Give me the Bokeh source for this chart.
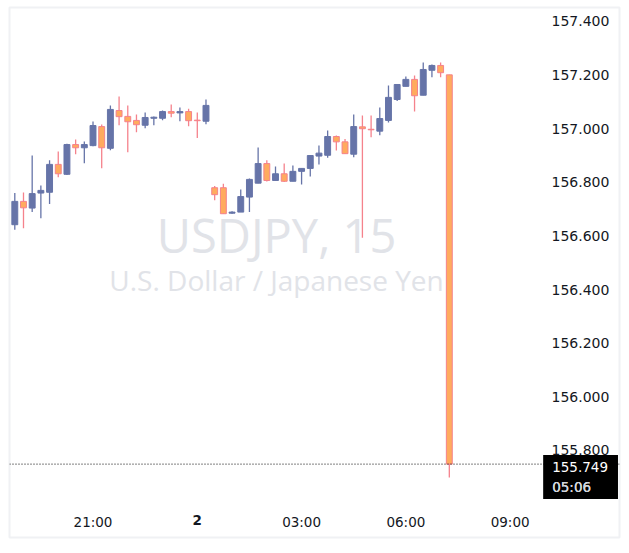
from bokeh.plotting import figure
from bokeh.models import Range1d, FixedTicker, PrintfTickFormatter, Span, Label
from bokeh.embed import file_html
from bokeh.resources import INLINE
import pandas as pd


# 15 minute candles, day 1 18:45 -> day 2 07:15
times = pd.date_range("2024-01-01 18:45", periods=51, freq="15min")

opens = [156.642, 156.729, 156.704, 156.760, 156.763, 156.867, 156.830, 156.941, 156.929, 156.937,
         157.008, 156.927, 157.068, 157.046, 157.031, 157.013, 157.039, 157.039, 157.064, 157.059,
         157.064, 157.032, 157.028, 156.780, 156.780, 156.685, 156.689, 156.745, 156.797, 156.870,
         156.807, 156.832, 156.804, 156.841, 156.852, 156.898, 156.901, 156.971, 156.951, 156.905,
         157.007, 156.998, 156.991, 157.031, 157.109, 157.158, 157.184, 157.125, 157.218, 157.236,
         157.201]
highs = [156.760, 156.762, 156.900, 156.788, 156.882, 156.915, 156.944, 156.960, 156.952, 157.027,
         157.016, 157.087, 157.120, 157.087, 157.053, 157.061, 157.046, 157.068, 157.090, 157.079,
         157.075, 157.061, 157.109, 156.786, 156.795, 156.692, 156.773, 156.814, 156.930, 156.882,
         156.859, 156.870, 156.863, 156.852, 156.900, 156.937, 156.993, 156.975, 156.962, 157.053,
         157.049, 157.049, 157.079, 157.161, 157.165, 157.195, 157.199, 157.247, 157.240, 157.247,
         157.201]
lows = [156.623, 156.629, 156.689, 156.666, 156.719, 156.819, 156.827, 156.905, 156.871, 156.935,
        156.853, 156.920, 157.013, 156.912, 156.987, 157.002, 157.013, 157.032, 157.043, 157.028,
        157.009, 156.965, 157.017, 156.733, 156.683, 156.683, 156.689, 156.689, 156.797, 156.803,
        156.807, 156.801, 156.804, 156.792, 156.822, 156.867, 156.892, 156.919, 156.907, 156.894,
        156.593, 156.968, 156.976, 157.023, 157.103, 157.158, 157.064, 157.125, 157.192, 157.192,
        155.699]
closes = [156.729, 156.705, 156.758, 156.770, 156.867, 156.832, 156.941, 156.929, 156.941, 157.012,
          156.929, 157.072, 157.045, 157.026, 157.015, 157.042, 157.043, 157.064, 157.058, 157.064,
          157.030, 157.030, 157.087, 156.754, 156.683, 156.689, 156.747, 156.811, 156.870, 156.807,
          156.832, 156.804, 156.841, 156.852, 156.900, 156.909, 156.971, 156.951, 156.907, 157.008,
          157.000, 156.996, 157.038, 157.117, 157.165, 157.184, 157.123, 157.221, 157.236, 157.209,
          155.749]

price_ticks = [155.8, 156.0, 156.2, 156.4, 156.6, 156.8, 157.0, 157.2, 157.4]
time_ticks = [21, 24, 27, 30, 33]
time_labels = ["21:00", "", "03:00", "06:00", "09:00"]
day_label = "2"
countdown = "05:06"

BLUE = "#6674a8"
ORANGE = "#ffab5e"
PINK = "#f5828c"
TEXT = "#131722"
WATERMARK = "#e1e3e8"

hours = [(t - times[0].normalize()) / pd.Timedelta(hours=1) for t in times]
up = [c >= o for o, c in zip(opens, closes)]
wick_colors = [BLUE if u else PINK for u in up]
fill_colors = [BLUE if u else ORANGE for u in up]
line_colors = [BLUE if u else PINK for u in up]
tops = [max(o, c) for o, c in zip(opens, closes)]
bottoms = [min(o, c) for o, c in zip(opens, closes)]


#frame covers the whole bordered chart, axes labels pulled inside it
p = figure(width=621, height=545, output_backend="svg", toolbar_location=None,
           x_range=Range1d(18.5975, 36.146), y_range=Range1d(155.4753, 157.4522),
           y_axis_location="right", min_border_left=9, min_border_right=2,
           min_border_top=7, min_border_bottom=8,
           background_fill_color="white", border_fill_color="white",
           outline_line_color="#f0f1f4", outline_line_width=2)
p.grid.visible = False

#watermark
p.add_layout(Label(x=26.28, y=156.602, text="USDJPY, 15", text_align="center", text_baseline="middle",
                   text_font="Open Sans", text_font_size="47px", text_color=WATERMARK, level="underlay"))
p.add_layout(Label(x=26.28, y=156.436, text="U.S. Dollar / Japanese Yen", text_align="center",
                   text_baseline="middle", text_font="Open Sans", text_font_size="28px",
                   text_color=WATERMARK, level="underlay"))

#candles
p.segment(hours, highs, hours, lows, line_color=wick_colors, line_width=1.3)
p.vbar(x=hours, width=0.17, top=tops, bottom=bottoms, fill_color=fill_colors, line_color=line_colors, line_width=1)

#last price line + label
p.add_layout(Span(location=closes[-1], dimension="width", line_color="black", line_width=1, line_dash="1 2"))
box_pad = dict(left=9, right=10, top=4, bottom=4)
p.add_layout(Label(x=33.95, y=closes[-1], y_offset=9, anchor="top_left",
                   text=f"{closes[-1]:.3f}\n{countdown}", text_color="white", text_font="DejaVu Sans",
                   text_font_size="13.5px", text_line_height=1.25, background_fill_color="black",
                   padding=box_pad))
p.add_layout(Label(x=33.95, y=closes[-1], y_offset=9, anchor="top_left",
                   text=f"\n{countdown}", text_color="#d1d4dc", text_font="DejaVu Sans",
                   text_font_size="13.5px", text_line_height=1.25, padding=box_pad))

#axes
p.yaxis.ticker = FixedTicker(ticks=price_ticks)
p.yaxis.formatter = PrintfTickFormatter(format="%.3f")
p.xaxis.ticker = FixedTicker(ticks=time_ticks)
p.xaxis.major_label_overrides = dict(zip(time_ticks, time_labels))
for ax in [p.xaxis, p.yaxis]:
    ax.axis_line_color = None
    ax.major_tick_line_color = None
    ax.minor_tick_line_color = None
    ax.major_tick_out = 0
    ax.major_tick_in = 0
    ax.major_label_text_font = "DejaVu Sans"
    ax.major_label_text_color = TEXT
p.yaxis.major_label_text_font_size = "14px"
p.xaxis.major_label_text_font_size = "13.5px"
p.yaxis.major_label_standoff = -68
p.xaxis.major_label_standoff = -24
p.add_layout(Label(x=24, y=155.5388, text=day_label, text_align="center", text_baseline="middle",
                   text_font="DejaVu Sans", text_font_size="13.5px", text_font_style="bold", text_color=TEXT))

open("out.html", "w").write(file_html(p, INLINE))
